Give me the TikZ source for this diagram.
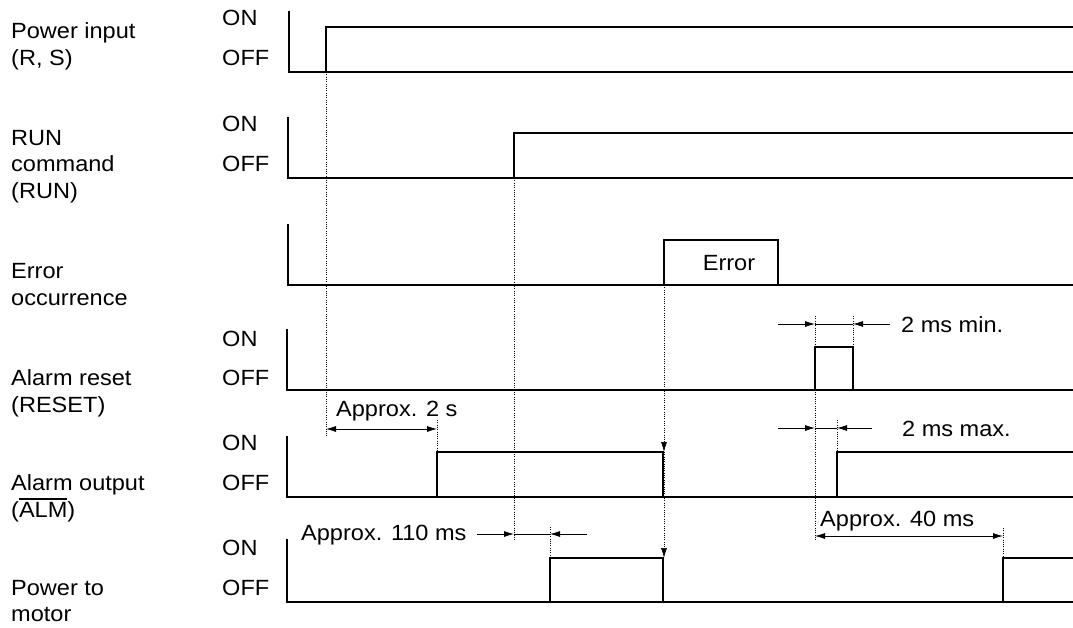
\documentclass[tikz,border=0pt]{standalone}
\usepackage{fontspec}
\setmainfont{Liberation Sans}[FakeStretch=1.07]
\usetikzlibrary{arrows.meta}
\newcommand\barover[1]{\leavevmode\vbox{\hrule height 1.5pt\kern 2.2pt\hbox{#1}}}
\begin{document}
\begin{tikzpicture}[x=1pt,y=-1pt,
  lbl/.style={inner sep=0pt,anchor=base west,font=\fontsize{22}{27}\selectfont},
  sig/.style={line width=2.8pt,line join=miter},
  dots/.style={line width=0.7pt,dash pattern=on 1pt off 1.3pt},
  dim/.style={line width=0.8pt},
  tip/.style={-{Latex[length=10pt,width=6pt]}},
  dtip/.style={{Latex[length=10pt,width=6pt]}-{Latex[length=10pt,width=6pt]}},
]
\useasboundingbox (0,0) rectangle (1073,627);

% ---------- left labels ----------
\node[lbl] (l1a) at (11,38.3) {Power input};
\node[lbl] (l1b) at (11,65) {(R, S)};
\node[lbl] (l2a) at (11,145) {RUN};
\node[lbl] (l2b) at (11,171.7) {command};
\node[lbl] (l2c) at (11,198.5) {(RUN)};
\node[lbl] (l3a) at (11,278) {Error};
\node[lbl] (l3b) at (11,305) {occurrence};
\node[lbl] (l4a) at (11,385) {Alarm reset};
\node[lbl] (l4b) at (11,412) {(RESET)};
\node[lbl] (l5a) at (11,490) {Alarm output};
\node[lbl] (l5b) at (11,517) {(\barover{ALM})};
\node[lbl] (l6a) at (11,595) {Power to};
\node[lbl] (l6b) at (11,621.5) {motor};

% ---------- ON / OFF ----------
\node[lbl] (on1) at (222,25) {ON};
\node[lbl] (off1) at (222,65) {OFF};
\node[lbl] (on2) at (222,131.7) {ON};
\node[lbl] (off2) at (222,171.7) {OFF};
\node[lbl] (on4) at (222,346.7) {ON};
\node[lbl] (off4) at (222,385) {OFF};
\node[lbl] (on5) at (222,450) {ON};
\node[lbl] (off5) at (222,490) {OFF};
\node[lbl] (on6) at (222,555) {ON};
\node[lbl] (off6) at (222,595) {OFF};

% ---------- row 1: power input ----------
\draw[sig] (289,11) -- (289,72) -- (1073,72);
\draw[sig] (326,72) -- (326,27) -- (1073,27);
% ---------- row 2: RUN ----------
\draw[sig] (288,117) -- (288,178) -- (1073,178);
\draw[sig] (514,178) -- (514,133) -- (1073,133);
% ---------- row 3: error ----------
\draw[sig] (288,224) -- (288,285) -- (1073,285);
\draw[sig] (664,285) -- (664,240) -- (778,240) -- (778,285);
\node[lbl,anchor=base] (err) at (729,270) {Error};
% ---------- row 4: alarm reset ----------
\draw[sig] (287,329) -- (287,390) -- (1073,390);
\draw[sig] (815,390) -- (815,347) -- (853,347) -- (853,390);
% ---------- row 5: alarm output ----------
\draw[sig] (287,436) -- (287,497) -- (1073,497);
\draw[sig] (437,497) -- (437,452) -- (663,452) -- (663,497);
\draw[sig] (837,497) -- (837,452) -- (1073,452);
% ---------- row 6: power to motor ----------
\draw[sig] (287,539) -- (287,602) -- (1073,602);
\draw[sig] (550,602) -- (550,558) -- (663,558) -- (663,602);
\draw[sig] (1003,602) -- (1003,558) -- (1073,558);

% ---------- event coordinates ----------
\coordinate (pw) at (326,72);
\coordinate (pwb) at (326,436);
\coordinate (ao1) at (437,420);
\coordinate (ao1b) at (437,452);
\coordinate (run) at (514,178);
\coordinate (runb) at (514,541);
\coordinate (pm1) at (550,527);
\coordinate (pm1b) at (550,558);
\coordinate (er) at (664,285);
\coordinate (er5) at (664,452);
\coordinate (er6) at (664,558);
\coordinate (rs1) at (815,316);
\coordinate (rs1b) at (815,541);
\coordinate (rs2) at (853,316);
\coordinate (rs2b) at (853,347);
\coordinate (ao2) at (837,420);
\coordinate (ao2b) at (837,452);
\coordinate (pm2) at (1003,528);
\coordinate (pm2b) at (1003,558);

% ---------- dotted guides ----------
\draw[dots] (pw) -- (pwb);
\draw[dots] (ao1) -- (ao1b);
\draw[dots] (run) -- (runb);
\draw[dots] (pm1) -- (pm1b);
\draw[dots,tip] (er) -- (er5);
\draw[dots,tip] (er5) -- (er6);
\draw[dots] (rs1) -- (rs1b);
\draw[dots] (rs2) -- (rs2b);
\draw[dots] (ao2) -- (ao2b);
\draw[dots] (pm2) -- (pm2b);

% ---------- dimensions ----------
% Approx. 2 s
\coordinate (d2a) at (326,429);
\coordinate (d2b) at (437,429);
\draw[dim,dtip] (d2a) -- (d2b);
\node[lbl] (t2s) at (336,416) {Approx. 2 s};
% Approx. 110 ms
\coordinate (m110a) at (477,534);
\coordinate (m110b) at (514,534);
\coordinate (m110c) at (550,534);
\coordinate (m110d) at (587,534);
\draw[dim,tip] (m110a) -- (m110b);
\draw[dim] (m110b) -- (m110c);
\draw[dim,tip] (m110d) -- (m110c);
\node[lbl] (t110) at (301,540) {Approx. 110 ms};
% 2 ms min.
\coordinate (mna) at (778,324);
\coordinate (mnb) at (815,324);
\coordinate (mnc) at (853,324);
\coordinate (mnd) at (890,324);
\draw[dim,tip] (mna) -- (mnb);
\draw[dim] (mnb) -- (mnc);
\draw[dim,tip] (mnd) -- (mnc);
\node[lbl] (tmin) at (901,332) {2 ms min.};
% 2 ms max.
\coordinate (mxa) at (778,428);
\coordinate (mxb) at (815,428);
\coordinate (mxc) at (837,428);
\coordinate (mxd) at (872,428);
\draw[dim,tip] (mxa) -- (mxb);
\draw[dim] (mxb) -- (mxc);
\draw[dim,tip] (mxd) -- (mxc);
\node[lbl] (tmax) at (902,436) {2 ms max.};
% Approx. 40 ms
\coordinate (m40a) at (815,536);
\coordinate (m40b) at (1003,536);
\draw[dim,dtip] (m40a) -- (m40b);
\node[lbl] (t40) at (820,526) {Approx. 40 ms};
\end{tikzpicture}
\end{document}
